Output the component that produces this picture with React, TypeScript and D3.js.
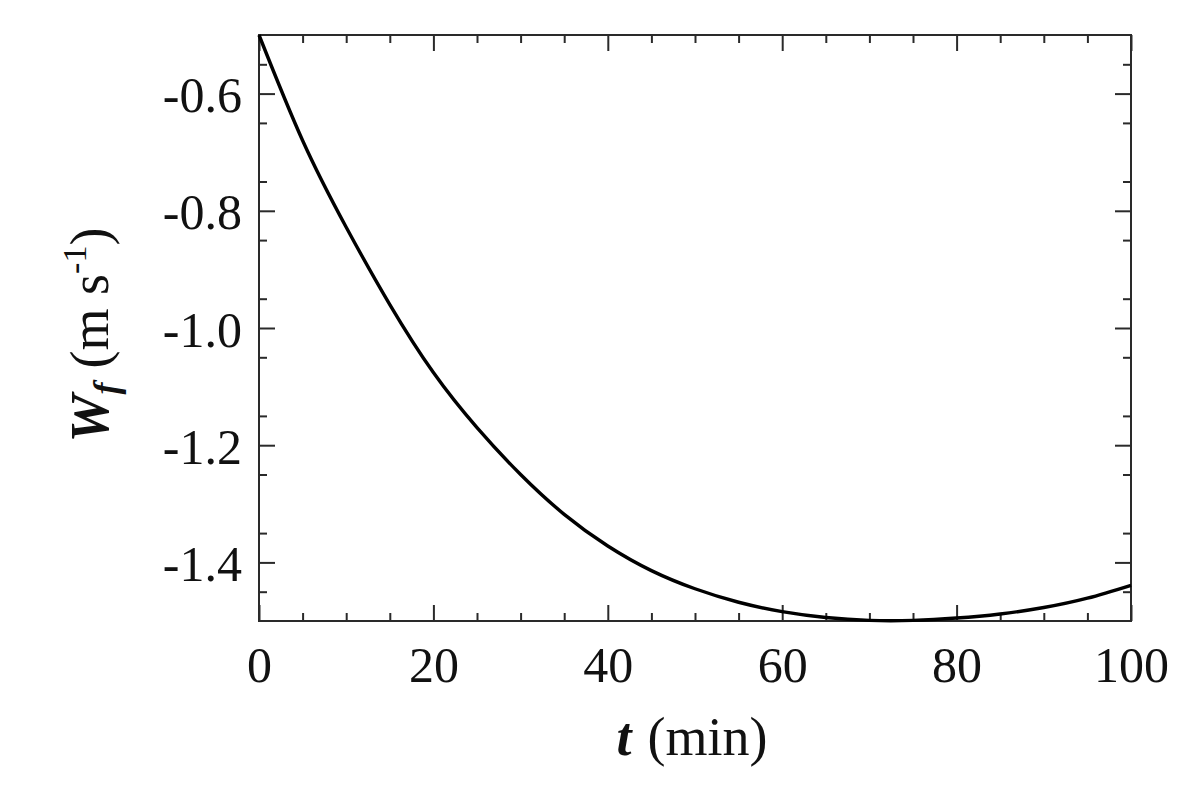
import React, { useEffect, useRef } from 'react';
import * as d3 from 'd3';

// sampled off the curve every 5 min
const times = [0, 5, 10, 15, 20, 25, 30, 35, 40, 45, 50, 55, 60, 65, 70, 75, 80, 85, 90, 95, 100];
const wf = [
  -0.5, -0.68, -0.828, -0.96, -1.076, -1.17, -1.25, -1.318, -1.372, -1.414, -1.445,
  -1.468, -1.484, -1.494, -1.499, -1.499, -1.495, -1.488, -1.477, -1.461, -1.439,
];

const xTicks = [0, 20, 40, 60, 80, 100];
const xTickLabels = ['0', '20', '40', '60', '80', '100'];
const yTicks = [-1.4, -1.2, -1.0, -0.8, -0.6];
const yTickLabels = ['-1.4', '-1.2', '-1.0', '-0.8', '-0.6'];

const App = () => {
  const svgRef = useRef(null);

  useEffect(() => {
    const svg = d3.select(svgRef.current);
    svg.selectAll('*').remove();

    const width = 1200;
    const height = 797;
    const left = 259;
    const right = 1131;
    const top = 35;
    const bottom = 621;

    const x = d3.scaleLinear().domain([0, 100]).range([left, right]);
    const y = d3.scaleLinear().domain([-1.5, -0.5]).range([bottom, top]);

    svg.attr('width', width).attr('height', height);

    const font = '"Liberation Serif", "Times New Roman", serif';
    const axisColor = '#2a2a2a';

    const xMinor = d3.range(0, 101, 5).filter((v) => v % 20 !== 0);
    const yMinor = d3.range(-1.5, -0.49, 0.05).filter((v) => Math.abs(Math.round(v * 10) / 10 - v) > 0.01);

    // inward ticks on all four sides
    const addTicks = (axis: any, translate: string) => {
      const g = svg.append('g').attr('transform', translate).call(axis);
      g.select('.domain').remove();
      g.selectAll('.tick line').attr('stroke', axisColor).attr('stroke-width', 2);
      return g;
    };

    const majorLen = 16;
    const minorLen = 8;

    const bottomAxis = addTicks(
      d3.axisBottom(x).tickValues(xTicks).tickSize(-majorLen).tickPadding(25)
        .tickFormat((d, i) => xTickLabels[i]),
      `translate(0,${bottom})`
    );
    bottomAxis.selectAll('.tick text')
      .attr('font-family', font).attr('font-size', 50).attr('fill', '#111');

    addTicks(d3.axisBottom(x).tickValues(xMinor).tickSize(-minorLen).tickFormat(() => ''), `translate(0,${bottom})`);
    addTicks(d3.axisTop(x).tickValues(xTicks).tickSize(-majorLen).tickFormat(() => ''), `translate(0,${top})`);
    addTicks(d3.axisTop(x).tickValues(xMinor).tickSize(-minorLen).tickFormat(() => ''), `translate(0,${top})`);

    const leftAxis = addTicks(
      d3.axisLeft(y).tickValues(yTicks).tickSize(-majorLen).tickPadding(17)
        .tickFormat((d, i) => yTickLabels[i]),
      `translate(${left},0)`
    );
    leftAxis.selectAll('.tick text')
      .attr('font-family', font).attr('font-size', 50).attr('fill', '#111').attr('dy', '0.36em');

    addTicks(d3.axisLeft(y).tickValues(yMinor).tickSize(-minorLen).tickFormat(() => ''), `translate(${left},0)`);
    addTicks(d3.axisRight(y).tickValues(yTicks).tickSize(-majorLen).tickFormat(() => ''), `translate(${right},0)`);
    addTicks(d3.axisRight(y).tickValues(yMinor).tickSize(-minorLen).tickFormat(() => ''), `translate(${right},0)`);

    // frame
    svg.append('rect')
      .attr('x', left).attr('y', top)
      .attr('width', right - left).attr('height', bottom - top)
      .attr('fill', 'none').attr('stroke', axisColor).attr('stroke-width', 2);

    const line = d3.line<number>()
      .x((d, i) => x(times[i]))
      .y((d) => y(d))
      .curve(d3.curveNatural);

    svg.append('path')
      .datum(wf)
      .attr('d', line)
      .attr('fill', 'none')
      .attr('stroke', '#000')
      .attr('stroke-width', 3.4);

    // x label
    const xl = svg.append('text')
      .attr('x', 692).attr('y', 755)
      .attr('text-anchor', 'middle')
      .attr('font-family', font).attr('font-size', 54).attr('fill', '#111');
    xl.append('tspan').attr('font-weight', 'bold').attr('font-style', 'italic').text('t');
    xl.append('tspan').attr('dx', 16).text('(min)');

    // y label
    const yl = svg.append('text')
      .attr('transform', 'translate(108,335) rotate(-90)')
      .attr('text-anchor', 'middle')
      .attr('font-family', font).attr('font-size', 54).attr('fill', '#111');
    yl.append('tspan').attr('font-weight', 'bold').attr('font-style', 'italic').text('W');
    yl.append('tspan').attr('font-weight', 'bold').attr('font-style', 'italic')
      .attr('font-size', 36).attr('dy', 10).text('f');
    yl.append('tspan').attr('dy', -10).attr('dx', 14).text('(m s');
    yl.append('tspan').attr('font-size', 34).attr('dy', -22).text('-1');
    yl.append('tspan').attr('dy', 22).text(')');
  }, []);

  return (
    <svg
      ref={svgRef}
      style={{ position: 'absolute', left: 0, top: 0, display: 'block', background: '#fff' }}
    ></svg>
  );
};

export default App;
